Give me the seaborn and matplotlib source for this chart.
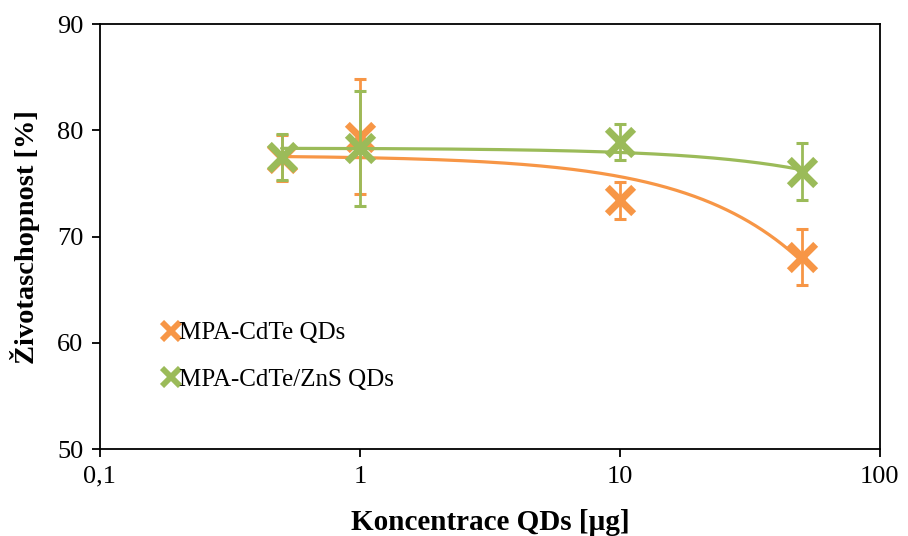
import numpy as np
import pandas as pd
import matplotlib
matplotlib.use("Agg")
import matplotlib.pyplot as plt
from matplotlib.lines import Line2D
from matplotlib.ticker import FixedLocator, FixedFormatter, NullLocator
import seaborn as sns

# Concentrations (µg) and viability (%) with standard deviations
concentration = [0.5, 1, 10, 50]
cdte_mean = [77.4, 79.4, 73.4, 68.1]
cdte_sd = [2.2, 5.4, 1.75, 2.65]
cdtezns_mean = [77.5, 78.3, 78.9, 76.1]
cdtezns_sd = [2.2, 5.4, 1.7, 2.7]
series_names = ["MPA-CdTe QDs", "MPA-CdTe/ZnS QDs"]
x_ticks = [0.1, 1, 10, 100]
x_tick_labels = ["0,1", "1", "10", "100"]
y_ticks = [50, 60, 70, 80, 90]

ORANGE = "#F79646"
GREEN = "#9BBB59"

sns.set_theme(style="white")
plt.rcParams["font.family"] = ["Liberation Serif", "DejaVu Serif"]
plt.rcParams["text.color"] = "black"
plt.rcParams["axes.labelcolor"] = "black"
plt.rcParams["xtick.color"] = "black"
plt.rcParams["ytick.color"] = "black"

fig = plt.figure(figsize=(9.08, 5.36), dpi=100)
ax = fig.add_axes([0.110, 0.1623, 0.859, 0.7927])

series = [
    (series_names[0], cdte_mean, cdte_sd, ORANGE),
    (series_names[1], cdtezns_mean, cdtezns_sd, GREEN),
]

# Linear trendlines over the measured range, drawn on the log axis
x_fit = np.linspace(min(concentration), max(concentration), 400)
for z, (name, mean, sd, color) in enumerate(series):
    slope, intercept = np.polyfit(concentration, mean, 1)
    trend = pd.DataFrame({"x": x_fit, "y": intercept + slope * x_fit})
    sns.lineplot(data=trend, x="x", y="y", ax=ax, color=color,
                 linewidth=2.3, zorder=2 + 2 * z, legend=False)
    ax.errorbar(concentration, mean, yerr=sd, fmt="none", ecolor=color,
                elinewidth=2.0, capsize=4.5, capthick=2.2, zorder=3 + 2 * z)
    sns.scatterplot(x=concentration, y=mean, ax=ax, marker="x", s=360,
                    color=color, linewidth=5, zorder=3 + 2 * z, legend=False)

ax.set_xscale("log")
ax.set_xlim(0.1, 100)
ax.set_ylim(50, 90)
ax.xaxis.set_major_locator(FixedLocator(x_ticks))
ax.xaxis.set_major_formatter(FixedFormatter(x_tick_labels))
ax.xaxis.set_minor_locator(NullLocator())
ax.set_yticks(y_ticks)

for side in ["left", "right", "top", "bottom"]:
    ax.spines[side].set_visible(True)
    ax.spines[side].set_color("black")
    ax.spines[side].set_linewidth(1.3)

ax.tick_params(axis="both", which="major", direction="out", length=6,
               width=1.3, color="black", labelsize=19, labelcolor="black",
               bottom=True, left=True, top=False, right=False, pad=6)

ax.set_xlabel("Koncentrace QDs [µg]", fontsize=21, fontweight="bold",
              color="black", labelpad=15)
ax.set_ylabel("Životaschopnost [%]", fontsize=20.5, fontweight="bold",
              color="black", labelpad=12)

handles = [Line2D([], [], linestyle="none", marker="x", markersize=12.5,
                  markeredgewidth=4.2, color=c) for c in (ORANGE, GREEN)]
leg = ax.legend(handles, series_names, loc="lower left",
                bbox_to_anchor=(0.065, 0.108), frameon=False, fontsize=18,
                handlelength=0.6, handletextpad=0.05, labelspacing=0.95,
                borderpad=0.0)
for t in leg.get_texts():
    t.set_color("black")

fig.savefig("out.png", dpi=100)
